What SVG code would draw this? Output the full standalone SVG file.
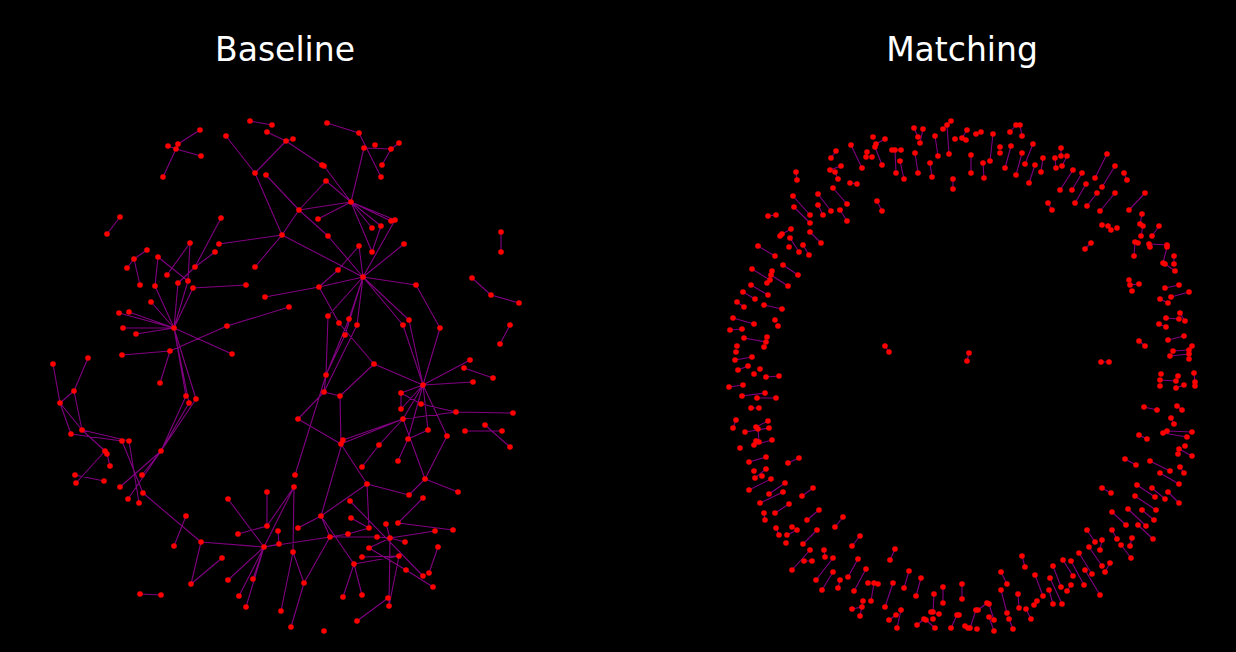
<svg xmlns="http://www.w3.org/2000/svg" width="1236" height="652" viewBox="0 0 1236 652">
<style>
.bg{fill:#000}
.t{font-family:"DejaVu Sans","Liberation Sans",sans-serif;font-size:33px;fill:#fff;text-anchor:middle}
.e{stroke:#800080;stroke-width:1.1;fill:none}
.n circle{fill:#f00}
</style>
<rect class="bg" width="1236" height="652"/>
<text class="t" x="285" y="61">Baseline</text>
<text class="t" x="962" y="61">Matching</text>
<g id="connectors">
<path id="edges-baseline" class="e" d="M250 121L272 125M267 132L286 141M286 141L255 173M226 136L255 173M200 130L178 144M168 146L176 149M178 144L176 149M176 149L201 156M176 149L163 177M255 173L282 235M266 175L299 210M120 217L107 234M221 218L195 267M282 235L219 244M282 235L255 267M282 235L299 210M282 235L363 277M190 243L167 275M190 243L188 281M215 252L195 267M195 267L178 283M147 250L134 259M134 259L127 268M134 259L140 285M158 257L155 286M158 257L188 281M193 288L246 285M327 123L359 133M359 133L381 177M364 148L391 149M364 148L351 202M399 143L391 149M391 149L382 165M286 141L322 165M286 141L293 139M324 166L351 202M326 181L351 202M326 181L299 210M351 202L299 210M351 202L318 219M351 202L372 228M351 202L381 226M351 202L391 221M351 202L395 220M351 202L372 252M381 226L372 252M395 220L363 277M299 210L328 236M328 236L363 277M359 246L338 270M359 246L363 277M404 244L363 277M338 270L319 287M363 277L416 285M501 232L501 252M472 278L491 295M491 295L519 303M510 325L500 344M319 287L265 297M319 287L363 277M289 307L227 326M227 326L170 351M170 351L122 355M170 351L160 383M151 302L174 328M119 313L174 328M129 312L174 328M123 328L174 328M136 334L174 328M174 328L232 354M174 328L155 286M174 328L178 283M174 328L188 281M174 328L193 288M174 328L186 396M174 328L189 403M174 328L196 399M53 364L60 403M88 358L74 391M74 391L60 403M74 391L82 430M60 403L71 434M60 403L82 430M82 430L105 451M71 434L122 441M82 430L129 441M161 451L186 396M161 451L189 403M161 451L196 399M416 285L440 328M440 328L423 385M319 287L339 323M339 323L374 364M328 316L363 277M328 316L326 375M349 319L363 277M357 325L363 277M345 335L363 277M349 319L326 375M357 325L324 392M345 335L326 375M403 325L363 277M409 320L363 277M403 325L423 385M409 320L423 385M374 364L423 385M374 364L340 396M423 385L470 360M423 385L473 382M423 385L401 393M423 385L401 409M423 385L403 419M423 385L428 430M423 385L447 436M423 385L408 439M464 368L493 378M401 393L401 409M401 393L421 404M421 404L456 412M456 412L513 413M456 412L403 419M326 375L324 392M324 392L340 396M324 392L298 419M340 396L341 444M298 419L341 444M403 419L343 440M403 419L341 444M403 419L379 445M428 430L408 439M485 425L510 447M465 431L502 431M107 454L110 466M75 475L104 481M76 483L105 451M120 487L161 451M122 441L143 493M129 441L139 503M161 451L128 499M142 475L161 451M143 493L201 542M186 516L174 546M201 542L191 584M201 542L264 547M191 584L222 558M140 594L161 595M228 499L264 547M267 526L238 534M267 526L267 492M267 526L294 487M278 531L279 544M279 544L264 547M264 547L228 580M264 547L239 596M264 547L246 607M264 547L253 579M281 611L293 552M295 475L326 375M294 487L293 552M294 487L264 547M321 516L298 528M321 516L367 484M321 516L330 537M321 516L354 564M321 516L343 440M367 484L409 495M367 484L369 528M367 484L341 444M425 479L409 495M425 479L458 492M425 479L447 436M425 479L403 419M398 461L408 439M362 467L379 445M423 498L398 523M350 501L423 576M351 518L369 528M390 538L435 531M390 538L405 542M390 538L369 548M390 538L386 524M390 538L377 537M390 538L389 606M330 537L348 534M330 537L377 537M330 537L264 547M330 537L304 583M293 552L304 583M304 583L291 627M354 564L399 556M354 564L343 597M354 564L362 595M388 598L357 621M389 606L399 556M429 573L438 547M406 570L433 587M362 557L399 556M398 523L453 530M348 534L369 528M369 548L406 570"/>
<path id="edges-matching" class="e" d="M914 128L918 137M923 129L920 143M947 125L949 154M967 130L962 138M935 136L938 156M915 153L918 173M930 163L932 177M953 179L953 189M885 139L876 144M875 147L882 165M867 152L866 157M851 145L862 168M892 150L901 150M895 150L896 173M900 161L904 179M836 151L831 158M841 166L830 170M835 172L838 179M796 172L797 180M850 183L857 184M833 188L847 204M818 194L831 211M818 205L823 215M840 210L847 221M877 201L882 211M793 196L810 215M794 207L810 223M768 216L776 215M791 229L782 234M790 238L799 252M810 232L821 243M803 245L809 255M758 246L775 256M783 265L798 275M752 269L770 280M772 271L767 283M771 275L788 286M751 285L768 295M743 292L755 299M737 302L744 307M764 305L782 309M733 318L754 324M730 330L742 329M744 338L766 342M735 360L752 357M738 370L748 366M766 377L779 376M729 387L743 385M742 396L765 393M757 398L776 398M751 408L759 408M736 420L733 428M768 421L756 427M758 429L759 442M769 428L745 432M772 440L754 445M885 346L889 352M969 353L967 361M1101 362L1109 362M976 134L981 132M993 134L990 161M971 155L971 173M983 163L984 178M1016 125L1010 132M1020 125L1022 136M1011 146L1005 168M1022 153L1016 175M1033 144L1025 164M1035 165L1029 183M1043 158L1041 172M1061 148L1061 156M1055 158L1056 168M1067 156L1062 166M1073 170L1060 190M1082 173L1072 190M1086 184L1075 203M1107 154L1095 178M1115 166L1102 187M1124 173L1127 180M1097 193L1087 206M1115 193L1100 211M1145 193L1129 210M1048 203L1052 210M1108 226L1111 230M1142 214L1140 224M1143 226L1141 236M1159 226L1152 236M1091 243L1085 249M1135 242L1134 256M1149 244L1167 245M1167 247L1163 263M1165 264L1175 271M1174 256L1174 264M1130 285L1139 284M1165 288L1179 285M1171 297L1189 292M1160 299L1168 303M1166 318L1179 319M1180 313L1185 321M1159 324L1166 327M1139 341L1145 346M1168 340L1184 336M1173 351L1189 350M1170 356L1189 354M1160 380L1176 381M1176 388L1184 385M1194 373L1195 382M1144 407L1157 410M1177 406L1182 410M1171 418L1174 424M1139 435L1147 439M1167 431L1192 432M1163 433L1187 437M1179 449L1192 456M749 462L766 457M788 463L799 458M766 469L755 478M749 490L771 479M769 494L785 483M760 503L783 492M802 496L813 488M775 513L789 504M764 513L765 520M807 520L819 510M776 528L779 535M797 530L787 535M803 544L817 530M835 527L843 517M852 546L860 536M810 550L792 570M804 561L812 561M824 550L825 557M833 558L816 580M833 572L822 590M858 559L848 577M866 569L854 591M840 580L838 588M895 549L890 560M874 583L871 601M893 583L885 607M909 571L904 588M921 578L916 596M863 601L860 616M862 607L852 609M901 610L897 628M896 615L889 620M934 594L933 612M931 612L939 614M943 587L943 603M962 584L962 599M924 619L917 625M926 620L935 628M957 615L951 628M965 626L968 628M1125 459L1136 465M1150 461L1170 471M1180 467L1184 473M1160 473L1179 484M1102 488L1111 493M1137 485L1155 497M1152 488L1165 499M1168 492L1179 503M1135 496L1156 510M1128 509L1146 526M1142 510L1154 520M1112 512L1126 525M1138 525L1153 539M1087 530L1095 542M1112 530L1117 539M1102 540L1100 550M1132 538L1130 546M1121 545L1131 558M1089 547L1102 566M1110 563L1105 572M1079 553L1092 574M1071 561L1084 585M1063 560L1073 576M1085 570L1100 595M1053 566L1061 587M1050 578L1062 604M1049 590L1053 604M1071 585L1067 591M1022 556L1025 567M1035 575L1043 596M1037 601L1034 605M1001 572L1007 584M1001 590L1007 613M1018 594L1019 608M1026 609L1031 619M1009 619L1013 629M987 603L978 610M989 604L994 620M989 617L994 631M970 628L976 610"/>
</g>
<g id="nodes-baseline" class="n">
<g id="b1"><circle cx="250" cy="121" r="2.8"/></g><g id="b2"><circle cx="272" cy="125" r="2.8"/></g><g id="b3"><circle cx="267" cy="132" r="2.8"/></g><g id="b4"><circle cx="286" cy="141" r="2.8"/></g><g id="b5"><circle cx="226" cy="136" r="2.8"/></g><g id="b6"><circle cx="255" cy="173" r="2.8"/></g><g id="b7"><circle cx="200" cy="130" r="2.8"/></g><g id="b8"><circle cx="178" cy="144" r="2.8"/></g><g id="b9"><circle cx="168" cy="146" r="2.8"/></g><g id="b10"><circle cx="176" cy="149" r="2.8"/></g>
<g id="b11"><circle cx="201" cy="156" r="2.8"/></g><g id="b12"><circle cx="163" cy="177" r="2.8"/></g><g id="b13"><circle cx="266" cy="175" r="2.8"/></g><g id="b14"><circle cx="120" cy="217" r="2.8"/></g><g id="b15"><circle cx="107" cy="234" r="2.8"/></g><g id="b16"><circle cx="221" cy="218" r="2.8"/></g><g id="b17"><circle cx="282" cy="235" r="2.8"/></g><g id="b18"><circle cx="219" cy="244" r="2.8"/></g><g id="b19"><circle cx="255" cy="267" r="2.8"/></g><g id="b20"><circle cx="190" cy="243" r="2.8"/></g>
<g id="b21"><circle cx="167" cy="275" r="2.8"/></g><g id="b22"><circle cx="215" cy="252" r="2.8"/></g><g id="b23"><circle cx="195" cy="267" r="2.8"/></g><g id="b24"><circle cx="147" cy="250" r="2.8"/></g><g id="b25"><circle cx="134" cy="259" r="2.8"/></g><g id="b26"><circle cx="127" cy="268" r="2.8"/></g><g id="b27"><circle cx="140" cy="285" r="2.8"/></g><g id="b28"><circle cx="158" cy="257" r="2.8"/></g><g id="b29"><circle cx="155" cy="286" r="2.8"/></g><g id="b30"><circle cx="188" cy="281" r="2.8"/></g>
<g id="b31"><circle cx="178" cy="283" r="2.8"/></g><g id="b32"><circle cx="193" cy="288" r="2.8"/></g><g id="b33"><circle cx="246" cy="285" r="2.8"/></g><g id="b34"><circle cx="327" cy="123" r="2.8"/></g><g id="b35"><circle cx="359" cy="133" r="2.8"/></g><g id="b36"><circle cx="364" cy="148" r="2.8"/></g><g id="b37"><circle cx="381" cy="177" r="2.8"/></g><g id="b38"><circle cx="375" cy="145" r="2.8"/></g><g id="b39"><circle cx="399" cy="143" r="2.8"/></g><g id="b40"><circle cx="391" cy="149" r="2.8"/></g>
<g id="b41"><circle cx="382" cy="165" r="2.8"/></g><g id="b42"><circle cx="293" cy="139" r="2.8"/></g><g id="b43"><circle cx="322" cy="165" r="2.8"/></g><g id="b44"><circle cx="324" cy="166" r="2.8"/></g><g id="b45"><circle cx="326" cy="181" r="2.8"/></g><g id="b46"><circle cx="351" cy="202" r="2.8"/></g><g id="b47"><circle cx="299" cy="210" r="2.8"/></g><g id="b48"><circle cx="318" cy="219" r="2.8"/></g><g id="b49"><circle cx="372" cy="228" r="2.8"/></g><g id="b50"><circle cx="381" cy="226" r="2.8"/></g>
<g id="b51"><circle cx="391" cy="221" r="2.8"/></g><g id="b52"><circle cx="395" cy="220" r="2.8"/></g><g id="b53"><circle cx="372" cy="252" r="2.8"/></g><g id="b54"><circle cx="328" cy="236" r="2.8"/></g><g id="b55"><circle cx="359" cy="246" r="2.8"/></g><g id="b56"><circle cx="404" cy="244" r="2.8"/></g><g id="b57"><circle cx="338" cy="270" r="2.8"/></g><g id="b58"><circle cx="363" cy="277" r="2.8"/></g><g id="b59"><circle cx="416" cy="285" r="2.8"/></g><g id="b60"><circle cx="501" cy="232" r="2.8"/></g>
<g id="b61"><circle cx="501" cy="252" r="2.8"/></g><g id="b62"><circle cx="472" cy="278" r="2.8"/></g><g id="b63"><circle cx="319" cy="287" r="2.8"/></g><g id="b64"><circle cx="265" cy="297" r="2.8"/></g><g id="b65"><circle cx="289" cy="307" r="2.8"/></g><g id="b66"><circle cx="151" cy="302" r="2.8"/></g><g id="b67"><circle cx="119" cy="313" r="2.8"/></g><g id="b68"><circle cx="129" cy="312" r="2.8"/></g><g id="b69"><circle cx="174" cy="328" r="2.8"/></g><g id="b70"><circle cx="123" cy="328" r="2.8"/></g>
<g id="b71"><circle cx="136" cy="334" r="2.8"/></g><g id="b72"><circle cx="227" cy="326" r="2.8"/></g><g id="b73"><circle cx="232" cy="354" r="2.8"/></g><g id="b74"><circle cx="170" cy="351" r="2.8"/></g><g id="b75"><circle cx="122" cy="355" r="2.8"/></g><g id="b76"><circle cx="160" cy="383" r="2.8"/></g><g id="b77"><circle cx="53" cy="364" r="2.8"/></g><g id="b78"><circle cx="88" cy="358" r="2.8"/></g><g id="b79"><circle cx="74" cy="391" r="2.8"/></g><g id="b80"><circle cx="60" cy="403" r="2.8"/></g>
<g id="b81"><circle cx="82" cy="430" r="2.8"/></g><g id="b82"><circle cx="71" cy="434" r="2.8"/></g><g id="b83"><circle cx="122" cy="441" r="2.8"/></g><g id="b84"><circle cx="129" cy="441" r="2.8"/></g><g id="b85"><circle cx="105" cy="451" r="2.8"/></g><g id="b86"><circle cx="107" cy="454" r="2.8"/></g><g id="b87"><circle cx="161" cy="451" r="2.8"/></g><g id="b88"><circle cx="186" cy="396" r="2.8"/></g><g id="b89"><circle cx="189" cy="403" r="2.8"/></g><g id="b90"><circle cx="196" cy="399" r="2.8"/></g>
<g id="b91"><circle cx="491" cy="295" r="2.8"/></g><g id="b92"><circle cx="519" cy="303" r="2.8"/></g><g id="b93"><circle cx="440" cy="328" r="2.8"/></g><g id="b94"><circle cx="510" cy="325" r="2.8"/></g><g id="b95"><circle cx="500" cy="344" r="2.8"/></g><g id="b96"><circle cx="339" cy="323" r="2.8"/></g><g id="b97"><circle cx="328" cy="316" r="2.8"/></g><g id="b98"><circle cx="349" cy="319" r="2.8"/></g><g id="b99"><circle cx="357" cy="325" r="2.8"/></g><g id="b100"><circle cx="345" cy="335" r="2.8"/></g>
<g id="b101"><circle cx="403" cy="325" r="2.8"/></g><g id="b102"><circle cx="409" cy="320" r="2.8"/></g><g id="b103"><circle cx="374" cy="364" r="2.8"/></g><g id="b104"><circle cx="423" cy="385" r="2.8"/></g><g id="b105"><circle cx="470" cy="360" r="2.8"/></g><g id="b106"><circle cx="473" cy="382" r="2.8"/></g><g id="b107"><circle cx="464" cy="368" r="2.8"/></g><g id="b108"><circle cx="493" cy="378" r="2.8"/></g><g id="b109"><circle cx="401" cy="393" r="2.8"/></g><g id="b110"><circle cx="401" cy="409" r="2.8"/></g>
<g id="b111"><circle cx="403" cy="419" r="2.8"/></g><g id="b112"><circle cx="421" cy="404" r="2.8"/></g><g id="b113"><circle cx="456" cy="412" r="2.8"/></g><g id="b114"><circle cx="513" cy="413" r="2.8"/></g><g id="b115"><circle cx="326" cy="375" r="2.8"/></g><g id="b116"><circle cx="324" cy="392" r="2.8"/></g><g id="b117"><circle cx="340" cy="396" r="2.8"/></g><g id="b118"><circle cx="298" cy="419" r="2.8"/></g><g id="b119"><circle cx="343" cy="440" r="2.8"/></g><g id="b120"><circle cx="341" cy="444" r="2.8"/></g>
<g id="b121"><circle cx="428" cy="430" r="2.8"/></g><g id="b122"><circle cx="447" cy="436" r="2.8"/></g><g id="b123"><circle cx="408" cy="439" r="2.8"/></g><g id="b124"><circle cx="379" cy="445" r="2.8"/></g><g id="b125"><circle cx="485" cy="425" r="2.8"/></g><g id="b126"><circle cx="510" cy="447" r="2.8"/></g><g id="b127"><circle cx="465" cy="431" r="2.8"/></g><g id="b128"><circle cx="502" cy="431" r="2.8"/></g><g id="b129"><circle cx="110" cy="466" r="2.8"/></g><g id="b130"><circle cx="75" cy="475" r="2.8"/></g>
<g id="b131"><circle cx="104" cy="481" r="2.8"/></g><g id="b132"><circle cx="76" cy="483" r="2.8"/></g><g id="b133"><circle cx="120" cy="487" r="2.8"/></g><g id="b134"><circle cx="142" cy="475" r="2.8"/></g><g id="b135"><circle cx="128" cy="499" r="2.8"/></g><g id="b136"><circle cx="143" cy="493" r="2.8"/></g><g id="b137"><circle cx="139" cy="503" r="2.8"/></g><g id="b138"><circle cx="201" cy="542" r="2.8"/></g><g id="b139"><circle cx="186" cy="516" r="2.8"/></g><g id="b140"><circle cx="174" cy="546" r="2.8"/></g>
<g id="b141"><circle cx="191" cy="584" r="2.8"/></g><g id="b142"><circle cx="222" cy="558" r="2.8"/></g><g id="b143"><circle cx="140" cy="594" r="2.8"/></g><g id="b144"><circle cx="161" cy="595" r="2.8"/></g><g id="b145"><circle cx="228" cy="499" r="2.8"/></g><g id="b146"><circle cx="267" cy="492" r="2.8"/></g><g id="b147"><circle cx="267" cy="526" r="2.8"/></g><g id="b148"><circle cx="238" cy="534" r="2.8"/></g><g id="b149"><circle cx="278" cy="531" r="2.8"/></g><g id="b150"><circle cx="279" cy="544" r="2.8"/></g>
<g id="b151"><circle cx="264" cy="547" r="2.8"/></g><g id="b152"><circle cx="228" cy="580" r="2.8"/></g><g id="b153"><circle cx="239" cy="596" r="2.8"/></g><g id="b154"><circle cx="246" cy="607" r="2.8"/></g><g id="b155"><circle cx="253" cy="579" r="2.8"/></g><g id="b156"><circle cx="281" cy="611" r="2.8"/></g><g id="b157"><circle cx="295" cy="475" r="2.8"/></g><g id="b158"><circle cx="294" cy="487" r="2.8"/></g><g id="b159"><circle cx="362" cy="467" r="2.8"/></g><g id="b160"><circle cx="398" cy="461" r="2.8"/></g>
<g id="b161"><circle cx="367" cy="484" r="2.8"/></g><g id="b162"><circle cx="409" cy="495" r="2.8"/></g><g id="b163"><circle cx="425" cy="479" r="2.8"/></g><g id="b164"><circle cx="458" cy="492" r="2.8"/></g><g id="b165"><circle cx="423" cy="498" r="2.8"/></g><g id="b166"><circle cx="350" cy="501" r="2.8"/></g><g id="b167"><circle cx="351" cy="518" r="2.8"/></g><g id="b168"><circle cx="321" cy="516" r="2.8"/></g><g id="b169"><circle cx="298" cy="528" r="2.8"/></g><g id="b170"><circle cx="369" cy="528" r="2.8"/></g>
<g id="b171"><circle cx="386" cy="524" r="2.8"/></g><g id="b172"><circle cx="398" cy="523" r="2.8"/></g><g id="b173"><circle cx="453" cy="530" r="2.8"/></g><g id="b174"><circle cx="435" cy="531" r="2.8"/></g><g id="b175"><circle cx="348" cy="534" r="2.8"/></g><g id="b176"><circle cx="377" cy="537" r="2.8"/></g><g id="b177"><circle cx="390" cy="538" r="2.8"/></g><g id="b178"><circle cx="405" cy="542" r="2.8"/></g><g id="b179"><circle cx="330" cy="537" r="2.8"/></g><g id="b180"><circle cx="293" cy="552" r="2.8"/></g>
<g id="b181"><circle cx="369" cy="548" r="2.8"/></g><g id="b182"><circle cx="362" cy="557" r="2.8"/></g><g id="b183"><circle cx="399" cy="556" r="2.8"/></g><g id="b184"><circle cx="354" cy="564" r="2.8"/></g><g id="b185"><circle cx="406" cy="570" r="2.8"/></g><g id="b186"><circle cx="429" cy="573" r="2.8"/></g><g id="b187"><circle cx="423" cy="576" r="2.8"/></g><g id="b188"><circle cx="438" cy="547" r="2.8"/></g><g id="b189"><circle cx="433" cy="587" r="2.8"/></g><g id="b190"><circle cx="304" cy="583" r="2.8"/></g>
<g id="b191"><circle cx="343" cy="597" r="2.8"/></g><g id="b192"><circle cx="362" cy="595" r="2.8"/></g><g id="b193"><circle cx="388" cy="598" r="2.8"/></g><g id="b194"><circle cx="389" cy="606" r="2.8"/></g><g id="b195"><circle cx="357" cy="621" r="2.8"/></g><g id="b196"><circle cx="291" cy="627" r="2.8"/></g><g id="b197"><circle cx="324" cy="631" r="2.8"/></g>
</g>
<g id="nodes-matching" class="n">
<g id="m1"><circle cx="914" cy="128" r="2.8"/></g><g id="m2"><circle cx="918" cy="137" r="2.8"/></g><g id="m3"><circle cx="923" cy="129" r="2.8"/></g><g id="m4"><circle cx="920" cy="143" r="2.8"/></g><g id="m5"><circle cx="947" cy="125" r="2.8"/></g><g id="m6"><circle cx="949" cy="154" r="2.8"/></g><g id="m7"><circle cx="951" cy="121" r="2.8"/></g><g id="m8"><circle cx="943" cy="129" r="2.8"/></g><g id="m9"><circle cx="967" cy="130" r="2.8"/></g><g id="m10"><circle cx="962" cy="138" r="2.8"/></g>
<g id="m11"><circle cx="955" cy="139" r="2.8"/></g><g id="m12"><circle cx="966" cy="140" r="2.8"/></g><g id="m13"><circle cx="935" cy="136" r="2.8"/></g><g id="m14"><circle cx="938" cy="156" r="2.8"/></g><g id="m15"><circle cx="915" cy="153" r="2.8"/></g><g id="m16"><circle cx="918" cy="173" r="2.8"/></g><g id="m17"><circle cx="930" cy="163" r="2.8"/></g><g id="m18"><circle cx="932" cy="177" r="2.8"/></g><g id="m19"><circle cx="953" cy="179" r="2.8"/></g><g id="m20"><circle cx="953" cy="189" r="2.8"/></g>
<g id="m21"><circle cx="885" cy="139" r="2.8"/></g><g id="m22"><circle cx="876" cy="144" r="2.8"/></g><g id="m23"><circle cx="875" cy="147" r="2.8"/></g><g id="m24"><circle cx="882" cy="165" r="2.8"/></g><g id="m25"><circle cx="873" cy="137" r="2.8"/></g><g id="m26"><circle cx="867" cy="152" r="2.8"/></g><g id="m27"><circle cx="866" cy="157" r="2.8"/></g><g id="m28"><circle cx="872" cy="157" r="2.8"/></g><g id="m29"><circle cx="851" cy="145" r="2.8"/></g><g id="m30"><circle cx="862" cy="168" r="2.8"/></g>
<g id="m31"><circle cx="892" cy="150" r="2.8"/></g><g id="m32"><circle cx="901" cy="150" r="2.8"/></g><g id="m33"><circle cx="895" cy="150" r="2.8"/></g><g id="m34"><circle cx="896" cy="173" r="2.8"/></g><g id="m35"><circle cx="900" cy="161" r="2.8"/></g><g id="m36"><circle cx="904" cy="179" r="2.8"/></g><g id="m37"><circle cx="836" cy="151" r="2.8"/></g><g id="m38"><circle cx="831" cy="158" r="2.8"/></g><g id="m39"><circle cx="841" cy="166" r="2.8"/></g><g id="m40"><circle cx="830" cy="170" r="2.8"/></g>
<g id="m41"><circle cx="835" cy="172" r="2.8"/></g><g id="m42"><circle cx="838" cy="179" r="2.8"/></g><g id="m43"><circle cx="796" cy="172" r="2.8"/></g><g id="m44"><circle cx="797" cy="180" r="2.8"/></g><g id="m45"><circle cx="850" cy="183" r="2.8"/></g><g id="m46"><circle cx="857" cy="184" r="2.8"/></g><g id="m47"><circle cx="833" cy="188" r="2.8"/></g><g id="m48"><circle cx="847" cy="204" r="2.8"/></g><g id="m49"><circle cx="818" cy="194" r="2.8"/></g><g id="m50"><circle cx="831" cy="211" r="2.8"/></g>
<g id="m51"><circle cx="818" cy="205" r="2.8"/></g><g id="m52"><circle cx="823" cy="215" r="2.8"/></g><g id="m53"><circle cx="840" cy="210" r="2.8"/></g><g id="m54"><circle cx="847" cy="221" r="2.8"/></g><g id="m55"><circle cx="877" cy="201" r="2.8"/></g><g id="m56"><circle cx="882" cy="211" r="2.8"/></g><g id="m57"><circle cx="793" cy="196" r="2.8"/></g><g id="m58"><circle cx="810" cy="215" r="2.8"/></g><g id="m59"><circle cx="794" cy="207" r="2.8"/></g><g id="m60"><circle cx="810" cy="223" r="2.8"/></g>
<g id="m61"><circle cx="768" cy="216" r="2.8"/></g><g id="m62"><circle cx="776" cy="215" r="2.8"/></g><g id="m63"><circle cx="791" cy="229" r="2.8"/></g><g id="m64"><circle cx="782" cy="234" r="2.8"/></g><g id="m65"><circle cx="780" cy="236" r="2.8"/></g><g id="m66"><circle cx="790" cy="238" r="2.8"/></g><g id="m67"><circle cx="799" cy="252" r="2.8"/></g><g id="m68"><circle cx="789" cy="247" r="2.8"/></g><g id="m69"><circle cx="810" cy="232" r="2.8"/></g><g id="m70"><circle cx="821" cy="243" r="2.8"/></g>
<g id="m71"><circle cx="803" cy="245" r="2.8"/></g><g id="m72"><circle cx="809" cy="255" r="2.8"/></g><g id="m73"><circle cx="758" cy="246" r="2.8"/></g><g id="m74"><circle cx="775" cy="256" r="2.8"/></g><g id="m75"><circle cx="783" cy="265" r="2.8"/></g><g id="m76"><circle cx="798" cy="275" r="2.8"/></g><g id="m77"><circle cx="752" cy="269" r="2.8"/></g><g id="m78"><circle cx="770" cy="280" r="2.8"/></g><g id="m79"><circle cx="772" cy="271" r="2.8"/></g><g id="m80"><circle cx="767" cy="283" r="2.8"/></g>
<g id="m81"><circle cx="771" cy="275" r="2.8"/></g><g id="m82"><circle cx="788" cy="286" r="2.8"/></g><g id="m83"><circle cx="751" cy="285" r="2.8"/></g><g id="m84"><circle cx="768" cy="295" r="2.8"/></g><g id="m85"><circle cx="743" cy="292" r="2.8"/></g><g id="m86"><circle cx="755" cy="299" r="2.8"/></g><g id="m87"><circle cx="737" cy="302" r="2.8"/></g><g id="m88"><circle cx="744" cy="307" r="2.8"/></g><g id="m89"><circle cx="764" cy="305" r="2.8"/></g><g id="m90"><circle cx="782" cy="309" r="2.8"/></g>
<g id="m91"><circle cx="733" cy="318" r="2.8"/></g><g id="m92"><circle cx="754" cy="324" r="2.8"/></g><g id="m93"><circle cx="775" cy="320" r="2.8"/></g><g id="m94"><circle cx="778" cy="326" r="2.8"/></g><g id="m95"><circle cx="730" cy="330" r="2.8"/></g><g id="m96"><circle cx="742" cy="329" r="2.8"/></g><g id="m97"><circle cx="744" cy="338" r="2.8"/></g><g id="m98"><circle cx="766" cy="342" r="2.8"/></g><g id="m99"><circle cx="767" cy="337" r="2.8"/></g><g id="m100"><circle cx="764" cy="347" r="2.8"/></g>
<g id="m101"><circle cx="737" cy="346" r="2.8"/></g><g id="m102"><circle cx="736" cy="352" r="2.8"/></g><g id="m103"><circle cx="735" cy="360" r="2.8"/></g><g id="m104"><circle cx="752" cy="357" r="2.8"/></g><g id="m105"><circle cx="738" cy="370" r="2.8"/></g><g id="m106"><circle cx="748" cy="366" r="2.8"/></g><g id="m107"><circle cx="760" cy="369" r="2.8"/></g><g id="m108"><circle cx="754" cy="374" r="2.8"/></g><g id="m109"><circle cx="766" cy="377" r="2.8"/></g><g id="m110"><circle cx="779" cy="376" r="2.8"/></g>
<g id="m111"><circle cx="729" cy="387" r="2.8"/></g><g id="m112"><circle cx="743" cy="385" r="2.8"/></g><g id="m113"><circle cx="742" cy="396" r="2.8"/></g><g id="m114"><circle cx="765" cy="393" r="2.8"/></g><g id="m115"><circle cx="757" cy="398" r="2.8"/></g><g id="m116"><circle cx="776" cy="398" r="2.8"/></g><g id="m117"><circle cx="751" cy="408" r="2.8"/></g><g id="m118"><circle cx="759" cy="408" r="2.8"/></g><g id="m119"><circle cx="736" cy="420" r="2.8"/></g><g id="m120"><circle cx="733" cy="428" r="2.8"/></g>
<g id="m121"><circle cx="768" cy="421" r="2.8"/></g><g id="m122"><circle cx="756" cy="427" r="2.8"/></g><g id="m123"><circle cx="758" cy="429" r="2.8"/></g><g id="m124"><circle cx="759" cy="442" r="2.8"/></g><g id="m125"><circle cx="769" cy="428" r="2.8"/></g><g id="m126"><circle cx="745" cy="432" r="2.8"/></g><g id="m127"><circle cx="772" cy="440" r="2.8"/></g><g id="m128"><circle cx="754" cy="445" r="2.8"/></g><g id="m129"><circle cx="756" cy="441" r="2.8"/></g><g id="m130"><circle cx="740" cy="448" r="2.8"/></g>
<g id="m131"><circle cx="885" cy="346" r="2.8"/></g><g id="m132"><circle cx="889" cy="352" r="2.8"/></g><g id="m133"><circle cx="969" cy="353" r="2.8"/></g><g id="m134"><circle cx="967" cy="361" r="2.8"/></g><g id="m135"><circle cx="1101" cy="362" r="2.8"/></g><g id="m136"><circle cx="1109" cy="362" r="2.8"/></g><g id="m137"><circle cx="976" cy="134" r="2.8"/></g><g id="m138"><circle cx="981" cy="132" r="2.8"/></g><g id="m139"><circle cx="993" cy="134" r="2.8"/></g><g id="m140"><circle cx="990" cy="161" r="2.8"/></g>
<g id="m141"><circle cx="971" cy="155" r="2.8"/></g><g id="m142"><circle cx="971" cy="173" r="2.8"/></g><g id="m143"><circle cx="983" cy="163" r="2.8"/></g><g id="m144"><circle cx="984" cy="178" r="2.8"/></g><g id="m145"><circle cx="1016" cy="125" r="2.8"/></g><g id="m146"><circle cx="1010" cy="132" r="2.8"/></g><g id="m147"><circle cx="1020" cy="125" r="2.8"/></g><g id="m148"><circle cx="1022" cy="136" r="2.8"/></g><g id="m149"><circle cx="1000" cy="147" r="2.8"/></g><g id="m150"><circle cx="1000" cy="153" r="2.8"/></g>
<g id="m151"><circle cx="1011" cy="146" r="2.8"/></g><g id="m152"><circle cx="1005" cy="168" r="2.8"/></g><g id="m153"><circle cx="1022" cy="153" r="2.8"/></g><g id="m154"><circle cx="1016" cy="175" r="2.8"/></g><g id="m155"><circle cx="1033" cy="144" r="2.8"/></g><g id="m156"><circle cx="1025" cy="164" r="2.8"/></g><g id="m157"><circle cx="1035" cy="165" r="2.8"/></g><g id="m158"><circle cx="1029" cy="183" r="2.8"/></g><g id="m159"><circle cx="1043" cy="158" r="2.8"/></g><g id="m160"><circle cx="1041" cy="172" r="2.8"/></g>
<g id="m161"><circle cx="1061" cy="148" r="2.8"/></g><g id="m162"><circle cx="1061" cy="156" r="2.8"/></g><g id="m163"><circle cx="1055" cy="158" r="2.8"/></g><g id="m164"><circle cx="1056" cy="168" r="2.8"/></g><g id="m165"><circle cx="1067" cy="156" r="2.8"/></g><g id="m166"><circle cx="1062" cy="166" r="2.8"/></g><g id="m167"><circle cx="1073" cy="170" r="2.8"/></g><g id="m168"><circle cx="1060" cy="190" r="2.8"/></g><g id="m169"><circle cx="1082" cy="173" r="2.8"/></g><g id="m170"><circle cx="1072" cy="190" r="2.8"/></g>
<g id="m171"><circle cx="1086" cy="184" r="2.8"/></g><g id="m172"><circle cx="1075" cy="203" r="2.8"/></g><g id="m173"><circle cx="1107" cy="154" r="2.8"/></g><g id="m174"><circle cx="1095" cy="178" r="2.8"/></g><g id="m175"><circle cx="1115" cy="166" r="2.8"/></g><g id="m176"><circle cx="1102" cy="187" r="2.8"/></g><g id="m177"><circle cx="1124" cy="173" r="2.8"/></g><g id="m178"><circle cx="1127" cy="180" r="2.8"/></g><g id="m179"><circle cx="1097" cy="193" r="2.8"/></g><g id="m180"><circle cx="1087" cy="206" r="2.8"/></g>
<g id="m181"><circle cx="1115" cy="193" r="2.8"/></g><g id="m182"><circle cx="1100" cy="211" r="2.8"/></g><g id="m183"><circle cx="1145" cy="193" r="2.8"/></g><g id="m184"><circle cx="1129" cy="210" r="2.8"/></g><g id="m185"><circle cx="1048" cy="203" r="2.8"/></g><g id="m186"><circle cx="1052" cy="210" r="2.8"/></g><g id="m187"><circle cx="1102" cy="225" r="2.8"/></g><g id="m188"><circle cx="1108" cy="226" r="2.8"/></g><g id="m189"><circle cx="1111" cy="230" r="2.8"/></g><g id="m190"><circle cx="1117" cy="228" r="2.8"/></g>
<g id="m191"><circle cx="1142" cy="214" r="2.8"/></g><g id="m192"><circle cx="1140" cy="224" r="2.8"/></g><g id="m193"><circle cx="1143" cy="226" r="2.8"/></g><g id="m194"><circle cx="1141" cy="236" r="2.8"/></g><g id="m195"><circle cx="1159" cy="226" r="2.8"/></g><g id="m196"><circle cx="1152" cy="236" r="2.8"/></g><g id="m197"><circle cx="1091" cy="243" r="2.8"/></g><g id="m198"><circle cx="1085" cy="249" r="2.8"/></g><g id="m199"><circle cx="1135" cy="242" r="2.8"/></g><g id="m200"><circle cx="1134" cy="256" r="2.8"/></g>
<g id="m201"><circle cx="1138" cy="243" r="2.8"/></g><g id="m202"><circle cx="1149" cy="244" r="2.8"/></g><g id="m203"><circle cx="1167" cy="245" r="2.8"/></g><g id="m204"><circle cx="1150" cy="247" r="2.8"/></g><g id="m205"><circle cx="1167" cy="247" r="2.8"/></g><g id="m206"><circle cx="1163" cy="263" r="2.8"/></g><g id="m207"><circle cx="1165" cy="264" r="2.8"/></g><g id="m208"><circle cx="1175" cy="271" r="2.8"/></g><g id="m209"><circle cx="1174" cy="256" r="2.8"/></g><g id="m210"><circle cx="1174" cy="264" r="2.8"/></g>
<g id="m211"><circle cx="1129" cy="280" r="2.8"/></g><g id="m212"><circle cx="1130" cy="285" r="2.8"/></g><g id="m213"><circle cx="1139" cy="284" r="2.8"/></g><g id="m214"><circle cx="1132" cy="291" r="2.8"/></g><g id="m215"><circle cx="1165" cy="288" r="2.8"/></g><g id="m216"><circle cx="1179" cy="285" r="2.8"/></g><g id="m217"><circle cx="1171" cy="297" r="2.8"/></g><g id="m218"><circle cx="1189" cy="292" r="2.8"/></g><g id="m219"><circle cx="1160" cy="299" r="2.8"/></g><g id="m220"><circle cx="1168" cy="303" r="2.8"/></g>
<g id="m221"><circle cx="1166" cy="318" r="2.8"/></g><g id="m222"><circle cx="1179" cy="319" r="2.8"/></g><g id="m223"><circle cx="1180" cy="313" r="2.8"/></g><g id="m224"><circle cx="1185" cy="321" r="2.8"/></g><g id="m225"><circle cx="1159" cy="324" r="2.8"/></g><g id="m226"><circle cx="1166" cy="327" r="2.8"/></g><g id="m227"><circle cx="1139" cy="341" r="2.8"/></g><g id="m228"><circle cx="1145" cy="346" r="2.8"/></g><g id="m229"><circle cx="1168" cy="340" r="2.8"/></g><g id="m230"><circle cx="1184" cy="336" r="2.8"/></g>
<g id="m231"><circle cx="1192" cy="346" r="2.8"/></g><g id="m232"><circle cx="1173" cy="351" r="2.8"/></g><g id="m233"><circle cx="1189" cy="350" r="2.8"/></g><g id="m234"><circle cx="1170" cy="356" r="2.8"/></g><g id="m235"><circle cx="1189" cy="354" r="2.8"/></g><g id="m236"><circle cx="1189" cy="359" r="2.8"/></g><g id="m237"><circle cx="1161" cy="374" r="2.8"/></g><g id="m238"><circle cx="1160" cy="380" r="2.8"/></g><g id="m239"><circle cx="1176" cy="381" r="2.8"/></g><g id="m240"><circle cx="1178" cy="376" r="2.8"/></g>
<g id="m241"><circle cx="1160" cy="386" r="2.8"/></g><g id="m242"><circle cx="1176" cy="388" r="2.8"/></g><g id="m243"><circle cx="1184" cy="385" r="2.8"/></g><g id="m244"><circle cx="1194" cy="373" r="2.8"/></g><g id="m245"><circle cx="1195" cy="382" r="2.8"/></g><g id="m246"><circle cx="1195" cy="386" r="2.8"/></g><g id="m247"><circle cx="1144" cy="407" r="2.8"/></g><g id="m248"><circle cx="1157" cy="410" r="2.8"/></g><g id="m249"><circle cx="1177" cy="406" r="2.8"/></g><g id="m250"><circle cx="1182" cy="410" r="2.8"/></g>
<g id="m251"><circle cx="1171" cy="418" r="2.8"/></g><g id="m252"><circle cx="1174" cy="424" r="2.8"/></g><g id="m253"><circle cx="1139" cy="435" r="2.8"/></g><g id="m254"><circle cx="1147" cy="439" r="2.8"/></g><g id="m255"><circle cx="1167" cy="431" r="2.8"/></g><g id="m256"><circle cx="1192" cy="432" r="2.8"/></g><g id="m257"><circle cx="1163" cy="433" r="2.8"/></g><g id="m258"><circle cx="1187" cy="437" r="2.8"/></g><g id="m259"><circle cx="1185" cy="446" r="2.8"/></g><g id="m260"><circle cx="1179" cy="449" r="2.8"/></g>
<g id="m261"><circle cx="1178" cy="454" r="2.8"/></g><g id="m262"><circle cx="1192" cy="456" r="2.8"/></g><g id="m263"><circle cx="749" cy="462" r="2.8"/></g><g id="m264"><circle cx="766" cy="457" r="2.8"/></g><g id="m265"><circle cx="788" cy="463" r="2.8"/></g><g id="m266"><circle cx="799" cy="458" r="2.8"/></g><g id="m267"><circle cx="754" cy="471" r="2.8"/></g><g id="m268"><circle cx="766" cy="469" r="2.8"/></g><g id="m269"><circle cx="755" cy="478" r="2.8"/></g><g id="m270"><circle cx="762" cy="476" r="2.8"/></g>
<g id="m271"><circle cx="749" cy="490" r="2.8"/></g><g id="m272"><circle cx="771" cy="479" r="2.8"/></g><g id="m273"><circle cx="769" cy="494" r="2.8"/></g><g id="m274"><circle cx="785" cy="483" r="2.8"/></g><g id="m275"><circle cx="760" cy="503" r="2.8"/></g><g id="m276"><circle cx="783" cy="492" r="2.8"/></g><g id="m277"><circle cx="802" cy="496" r="2.8"/></g><g id="m278"><circle cx="813" cy="488" r="2.8"/></g><g id="m279"><circle cx="775" cy="513" r="2.8"/></g><g id="m280"><circle cx="789" cy="504" r="2.8"/></g>
<g id="m281"><circle cx="764" cy="513" r="2.8"/></g><g id="m282"><circle cx="765" cy="520" r="2.8"/></g><g id="m283"><circle cx="807" cy="520" r="2.8"/></g><g id="m284"><circle cx="819" cy="510" r="2.8"/></g><g id="m285"><circle cx="776" cy="528" r="2.8"/></g><g id="m286"><circle cx="779" cy="535" r="2.8"/></g><g id="m287"><circle cx="792" cy="527" r="2.8"/></g><g id="m288"><circle cx="797" cy="530" r="2.8"/></g><g id="m289"><circle cx="787" cy="535" r="2.8"/></g><g id="m290"><circle cx="786" cy="543" r="2.8"/></g>
<g id="m291"><circle cx="803" cy="544" r="2.8"/></g><g id="m292"><circle cx="817" cy="530" r="2.8"/></g><g id="m293"><circle cx="835" cy="527" r="2.8"/></g><g id="m294"><circle cx="843" cy="517" r="2.8"/></g><g id="m295"><circle cx="852" cy="546" r="2.8"/></g><g id="m296"><circle cx="860" cy="536" r="2.8"/></g><g id="m297"><circle cx="810" cy="550" r="2.8"/></g><g id="m298"><circle cx="792" cy="570" r="2.8"/></g><g id="m299"><circle cx="804" cy="561" r="2.8"/></g><g id="m300"><circle cx="812" cy="561" r="2.8"/></g>
<g id="m301"><circle cx="824" cy="550" r="2.8"/></g><g id="m302"><circle cx="825" cy="557" r="2.8"/></g><g id="m303"><circle cx="833" cy="558" r="2.8"/></g><g id="m304"><circle cx="816" cy="580" r="2.8"/></g><g id="m305"><circle cx="833" cy="572" r="2.8"/></g><g id="m306"><circle cx="822" cy="590" r="2.8"/></g><g id="m307"><circle cx="858" cy="559" r="2.8"/></g><g id="m308"><circle cx="848" cy="577" r="2.8"/></g><g id="m309"><circle cx="866" cy="569" r="2.8"/></g><g id="m310"><circle cx="854" cy="591" r="2.8"/></g>
<g id="m311"><circle cx="840" cy="580" r="2.8"/></g><g id="m312"><circle cx="838" cy="588" r="2.8"/></g><g id="m313"><circle cx="895" cy="549" r="2.8"/></g><g id="m314"><circle cx="890" cy="560" r="2.8"/></g><g id="m315"><circle cx="868" cy="583" r="2.8"/></g><g id="m316"><circle cx="874" cy="583" r="2.8"/></g><g id="m317"><circle cx="871" cy="601" r="2.8"/></g><g id="m318"><circle cx="878" cy="584" r="2.8"/></g><g id="m319"><circle cx="893" cy="583" r="2.8"/></g><g id="m320"><circle cx="885" cy="607" r="2.8"/></g>
<g id="m321"><circle cx="909" cy="571" r="2.8"/></g><g id="m322"><circle cx="904" cy="588" r="2.8"/></g><g id="m323"><circle cx="921" cy="578" r="2.8"/></g><g id="m324"><circle cx="916" cy="596" r="2.8"/></g><g id="m325"><circle cx="863" cy="601" r="2.8"/></g><g id="m326"><circle cx="860" cy="616" r="2.8"/></g><g id="m327"><circle cx="862" cy="607" r="2.8"/></g><g id="m328"><circle cx="852" cy="609" r="2.8"/></g><g id="m329"><circle cx="901" cy="610" r="2.8"/></g><g id="m330"><circle cx="897" cy="628" r="2.8"/></g>
<g id="m331"><circle cx="896" cy="615" r="2.8"/></g><g id="m332"><circle cx="889" cy="620" r="2.8"/></g><g id="m333"><circle cx="934" cy="594" r="2.8"/></g><g id="m334"><circle cx="933" cy="612" r="2.8"/></g><g id="m335"><circle cx="931" cy="612" r="2.8"/></g><g id="m336"><circle cx="939" cy="614" r="2.8"/></g><g id="m337"><circle cx="933" cy="619" r="2.8"/></g><g id="m338"><circle cx="943" cy="587" r="2.8"/></g><g id="m339"><circle cx="943" cy="603" r="2.8"/></g><g id="m340"><circle cx="962" cy="584" r="2.8"/></g>
<g id="m341"><circle cx="962" cy="599" r="2.8"/></g><g id="m342"><circle cx="924" cy="619" r="2.8"/></g><g id="m343"><circle cx="917" cy="625" r="2.8"/></g><g id="m344"><circle cx="926" cy="620" r="2.8"/></g><g id="m345"><circle cx="935" cy="628" r="2.8"/></g><g id="m346"><circle cx="957" cy="615" r="2.8"/></g><g id="m347"><circle cx="951" cy="628" r="2.8"/></g><g id="m348"><circle cx="959" cy="615" r="2.8"/></g><g id="m349"><circle cx="965" cy="626" r="2.8"/></g><g id="m350"><circle cx="968" cy="628" r="2.8"/></g>
<g id="m351"><circle cx="1125" cy="459" r="2.8"/></g><g id="m352"><circle cx="1136" cy="465" r="2.8"/></g><g id="m353"><circle cx="1150" cy="461" r="2.8"/></g><g id="m354"><circle cx="1170" cy="471" r="2.8"/></g><g id="m355"><circle cx="1180" cy="467" r="2.8"/></g><g id="m356"><circle cx="1184" cy="473" r="2.8"/></g><g id="m357"><circle cx="1160" cy="473" r="2.8"/></g><g id="m358"><circle cx="1179" cy="484" r="2.8"/></g><g id="m359"><circle cx="1102" cy="488" r="2.8"/></g><g id="m360"><circle cx="1111" cy="493" r="2.8"/></g>
<g id="m361"><circle cx="1137" cy="485" r="2.8"/></g><g id="m362"><circle cx="1155" cy="497" r="2.8"/></g><g id="m363"><circle cx="1152" cy="488" r="2.8"/></g><g id="m364"><circle cx="1165" cy="499" r="2.8"/></g><g id="m365"><circle cx="1168" cy="492" r="2.8"/></g><g id="m366"><circle cx="1179" cy="503" r="2.8"/></g><g id="m367"><circle cx="1135" cy="496" r="2.8"/></g><g id="m368"><circle cx="1156" cy="510" r="2.8"/></g><g id="m369"><circle cx="1128" cy="509" r="2.8"/></g><g id="m370"><circle cx="1146" cy="526" r="2.8"/></g>
<g id="m371"><circle cx="1142" cy="510" r="2.8"/></g><g id="m372"><circle cx="1154" cy="520" r="2.8"/></g><g id="m373"><circle cx="1112" cy="512" r="2.8"/></g><g id="m374"><circle cx="1126" cy="525" r="2.8"/></g><g id="m375"><circle cx="1138" cy="525" r="2.8"/></g><g id="m376"><circle cx="1153" cy="539" r="2.8"/></g><g id="m377"><circle cx="1087" cy="530" r="2.8"/></g><g id="m378"><circle cx="1095" cy="542" r="2.8"/></g><g id="m379"><circle cx="1112" cy="530" r="2.8"/></g><g id="m380"><circle cx="1117" cy="539" r="2.8"/></g>
<g id="m381"><circle cx="1102" cy="540" r="2.8"/></g><g id="m382"><circle cx="1100" cy="550" r="2.8"/></g><g id="m383"><circle cx="1132" cy="538" r="2.8"/></g><g id="m384"><circle cx="1130" cy="546" r="2.8"/></g><g id="m385"><circle cx="1121" cy="545" r="2.8"/></g><g id="m386"><circle cx="1131" cy="558" r="2.8"/></g><g id="m387"><circle cx="1089" cy="547" r="2.8"/></g><g id="m388"><circle cx="1102" cy="566" r="2.8"/></g><g id="m389"><circle cx="1110" cy="563" r="2.8"/></g><g id="m390"><circle cx="1105" cy="572" r="2.8"/></g>
<g id="m391"><circle cx="1079" cy="553" r="2.8"/></g><g id="m392"><circle cx="1092" cy="574" r="2.8"/></g><g id="m393"><circle cx="1071" cy="561" r="2.8"/></g><g id="m394"><circle cx="1084" cy="585" r="2.8"/></g><g id="m395"><circle cx="1063" cy="560" r="2.8"/></g><g id="m396"><circle cx="1073" cy="576" r="2.8"/></g><g id="m397"><circle cx="1085" cy="570" r="2.8"/></g><g id="m398"><circle cx="1100" cy="595" r="2.8"/></g><g id="m399"><circle cx="1053" cy="566" r="2.8"/></g><g id="m400"><circle cx="1061" cy="587" r="2.8"/></g>
<g id="m401"><circle cx="1050" cy="578" r="2.8"/></g><g id="m402"><circle cx="1062" cy="604" r="2.8"/></g><g id="m403"><circle cx="1049" cy="590" r="2.8"/></g><g id="m404"><circle cx="1053" cy="604" r="2.8"/></g><g id="m405"><circle cx="1071" cy="585" r="2.8"/></g><g id="m406"><circle cx="1067" cy="591" r="2.8"/></g><g id="m407"><circle cx="1022" cy="556" r="2.8"/></g><g id="m408"><circle cx="1025" cy="567" r="2.8"/></g><g id="m409"><circle cx="1035" cy="575" r="2.8"/></g><g id="m410"><circle cx="1043" cy="596" r="2.8"/></g>
<g id="m411"><circle cx="1037" cy="601" r="2.8"/></g><g id="m412"><circle cx="1034" cy="605" r="2.8"/></g><g id="m413"><circle cx="1001" cy="572" r="2.8"/></g><g id="m414"><circle cx="1007" cy="584" r="2.8"/></g><g id="m415"><circle cx="1001" cy="590" r="2.8"/></g><g id="m416"><circle cx="1007" cy="613" r="2.8"/></g><g id="m417"><circle cx="1018" cy="594" r="2.8"/></g><g id="m418"><circle cx="1019" cy="608" r="2.8"/></g><g id="m419"><circle cx="1026" cy="609" r="2.8"/></g><g id="m420"><circle cx="1031" cy="619" r="2.8"/></g>
<g id="m421"><circle cx="1009" cy="619" r="2.8"/></g><g id="m422"><circle cx="1013" cy="629" r="2.8"/></g><g id="m423"><circle cx="987" cy="603" r="2.8"/></g><g id="m424"><circle cx="978" cy="610" r="2.8"/></g><g id="m425"><circle cx="989" cy="604" r="2.8"/></g><g id="m426"><circle cx="994" cy="620" r="2.8"/></g><g id="m427"><circle cx="976" cy="610" r="2.8"/></g><g id="m428"><circle cx="989" cy="617" r="2.8"/></g><g id="m429"><circle cx="994" cy="631" r="2.8"/></g><g id="m430"><circle cx="970" cy="628" r="2.8"/></g>
<g id="m431"><circle cx="977" cy="629" r="2.8"/></g>
</g>
</svg>
